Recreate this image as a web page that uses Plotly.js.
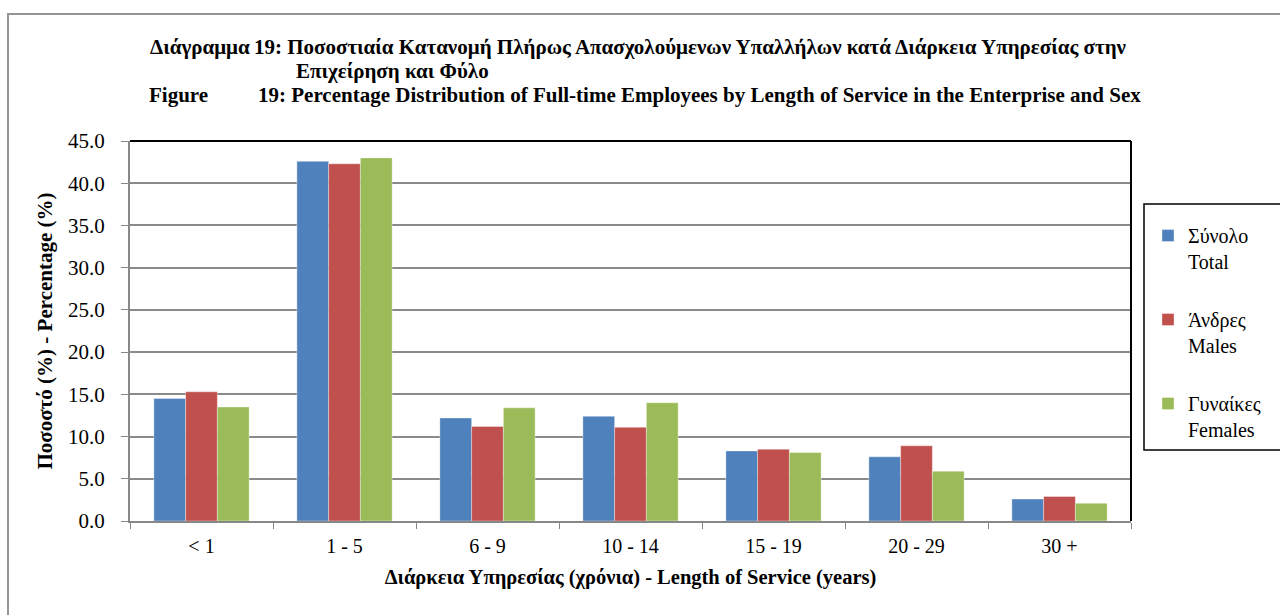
<!DOCTYPE html>
<html>
<head>
<meta charset="utf-8">
<script src="https://cdn.plot.ly/plotly-3.0.1.min.js"></script>
<style>html,body{margin:0;padding:0;background:#fff;}#chart{width:1280px;height:615px;}</style>
</head>
<body>
<div id="chart"></div>
<script>
const categories = ["< 1", "1 - 5", "6 - 9", "10 - 14", "15 - 19", "20 - 29", "30 +"];
const totalValues = [14.5, 42.6, 12.2, 12.4, 8.3, 7.6, 2.6];
const malesValues = [15.3, 42.3, 11.2, 11.1, 8.5, 8.9, 2.9];
const femalesValues = [13.5, 43.0, 13.4, 14.0, 8.1, 5.9, 2.1];
const seriesNames = ["Σύνολο<br>Total", "Άνδρες<br>Males", "Γυναίκες<br>Females"];
const yTicks = [0, 5, 10, 15, 20, 25, 30, 35, 40, 45];

const L = 130, R = 1131, T = 141, B = 521, W = 1280, H = 615;
const px = x => (x - L) / (R - L);
const py = y => (B - y) / (B - T);
const serif = "Liberation Serif";

const colors = ["#4F81BD", "#C0504D", "#9BBB59"];
const vals = [totalValues, malesValues, femalesValues];
const traces = vals.map((v, i) => ({
  type: "bar", x: categories, y: v, name: seriesNames[i],
  legendgroup: "g" + i,
  marker: {color: colors[i], line: {color: "rgba(255,255,255,0.6)", width: 0.6}},
  hoverinfo: "x+y"
}));

const titleFont = {family: serif, size: 21, color: "#000"};
const annotations = [
  {text: "<b>Διάγραμμα</b>", x: px(148), y: py(47)},
  {text: "<b>19: Ποσοστιαία Κατανομή Πλήρως Απασχολούμενων Υπαλλήλων κατά Διάρκεια Υπηρεσίας στην</b>", x: px(252), y: py(47)},
  {text: "<b>Επιχείρηση και Φύλο</b>", x: px(294), y: py(71)},
  {text: "<b>Figure</b>", x: px(147), y: py(95)},
  {text: "<b>19: Percentage Distribution of Full-time Employees by Length of Service in the Enterprise and Sex</b>", x: px(256), y: py(95)}
].map(a => Object.assign({xref: "paper", yref: "paper", xanchor: "left", yanchor: "middle", showarrow: false, font: titleFont}, a));

const layout = {
  width: W, height: H,
  margin: {l: L, r: W - R, t: T, b: H - B},
  paper_bgcolor: "#fff", plot_bgcolor: "#fff",
  barmode: "group", bargap: 0.334, bargroupgap: 0,
  showlegend: true,
  legend: {
    x: px(1148), y: py(216), xanchor: "left", yanchor: "top",
    font: {family: serif, size: 20, color: "#000"},
    traceorder: "grouped", tracegroupgap: 29, valign: "top",
    itemwidth: 30, borderwidth: 0, bgcolor: "rgba(0,0,0,0)"
  },
  xaxis: {
    type: "category", tickson: "boundaries", ticks: "outside", ticklen: 6, tickcolor: "#888",
    showline: true, linecolor: "#888", linewidth: 2,
    tickfont: {family: serif, size: 20, color: "#000"},
    ticklabelstandoff: 6,
    title: {text: "<b>Διάρκεια Υπηρεσίας (χρόνια) - Length of Service (years)</b>", font: {family: serif, size: 20.5, color: "#000"}, standoff: 14},
    fixedrange: true
  },
  yaxis: {
    range: [0, 45], tickvals: yTicks, tickformat: ".1f",
    ticks: "outside", ticklen: 7, tickcolor: "#888",
    showline: true, linecolor: "#888", linewidth: 2,
    showgrid: true, gridcolor: "#8a8a8a", gridwidth: 2,
    zeroline: false,
    tickfont: {family: serif, size: 21, color: "#000"},
    ticklabelstandoff: 12,
    title: {text: "<b>Ποσοστό (%) - Percentage (%)</b>", font: {family: serif, size: 21, color: "#000"}, standoff: 10},
    fixedrange: true
  },
  annotations: annotations,
  shapes: [
    {type: "line", xref: "paper", yref: "paper", x0: 0, x1: 1, y0: 1, y1: 1, line: {color: "#000", width: 2}},
    {type: "line", xref: "paper", yref: "paper", x0: 1, x1: 1, y0: 0, y1: 1, line: {color: "#000", width: 2}},
    {type: "rect", xref: "paper", yref: "paper", x0: px(1144), x1: px(1295), y0: py(450), y1: py(204), line: {color: "#000", width: 1.5}},
    {type: "rect", xref: "paper", yref: "paper", x0: px(8), x1: px(1300), y0: py(630), y1: py(14), line: {color: "#959595", width: 2}}
  ]
};

Plotly.newPlot("chart", traces, layout, {displayModeBar: false, staticPlot: true});
</script>
</body>
</html>
